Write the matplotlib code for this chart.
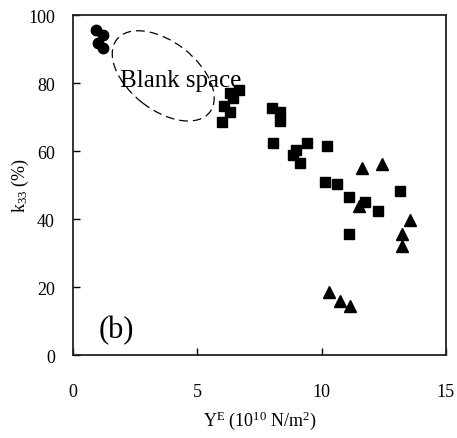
import matplotlib
matplotlib.use("Agg")
import matplotlib.pyplot as plt
from matplotlib.patches import Ellipse
from matplotlib.transforms import ScaledTranslation

plt.rcParams['font.family'] = ['Liberation Serif', 'DejaVu Serif']
plt.rcParams['mathtext.fontset'] = 'custom'
plt.rcParams['mathtext.rm'] = 'Liberation Serif'
plt.rcParams['mathtext.it'] = 'Liberation Serif:italic'

# Data
circ_x = [0.93, 1.21, 1.01, 1.21]
circ_y = [95.6, 94.1, 91.8, 90.3]

sq_x = [6.67, 6.30, 6.45, 6.06, 6.30, 6.00,
        8.01, 8.31, 8.31, 8.05, 9.40, 8.99, 8.86, 9.15, 10.20,
        10.12, 10.63, 11.12, 11.73, 12.27, 11.12, 13.15]
sq_y = [77.9, 77.1, 75.6, 73.3, 71.4, 68.4,
        72.8, 71.6, 68.9, 62.3, 62.3, 60.3, 58.8, 56.4, 61.4,
        51.0, 50.3, 46.4, 45.1, 42.3, 35.6, 48.3]

tri_x = [11.64, 12.45, 11.50, 13.56, 13.23, 13.23, 10.30, 10.74, 11.13]
tri_y = [54.9, 56.2, 43.7, 39.8, 35.6, 32.2, 18.6, 16.0, 14.5]

x_ticks = [0, 5, 10, 15]
y_ticks = [0, 20, 40, 60, 80, 100]

fig = plt.figure(figsize=(4.57, 4.39), dpi=100)
ax = fig.add_axes([0.1597, 0.189, 0.816, 0.7745])

ax.plot(circ_x, circ_y, 'o', color='black', ms=7.5, mec='black')
ax.plot(sq_x, sq_y, 's', color='black', ms=7.7, mec='black')
ax.plot(tri_x, tri_y, '^', color='black', ms=9, mec='black')

ax.set_xlim(0, 15)
ax.set_ylim(0, 100)
ax.set_xticks(x_ticks)
ax.set_yticks(y_ticks)
ax.tick_params(axis='x', direction='in', length=5, width=1, pad=20, labelsize=13)
ax.tick_params(axis='y', direction='in', length=5, width=1, pad=13, labelsize=13)
for s in ax.spines.values():
    s.set_linewidth(1.3)
    s.set_color('#222222')

ax.set_xlabel(r'Y$^{\mathrm{E}}$ (10$^{\mathrm{10}}$ N/m$^{\mathrm{2}}$)', fontsize=13, labelpad=6)
ax.set_ylabel(r'k$_{\mathrm{33}}$ (%)', fontsize=13, labelpad=-2)

# dashed "blank space" outline
ell = Ellipse((0, 0), 1.18, 0.68, angle=-38, fill=False, ls=(0, (7, 4)),
              lw=0.9, color='black',
              transform=fig.dpi_scale_trans + ScaledTranslation(3.63, 82.1, ax.transData))
ax.add_patch(ell)
ax.text(1.9, 81, 'Blank space', fontsize=18, ha='left', va='center')
ax.text(1.73, 7.6, '(b)', fontsize=22, ha='center', va='center')

fig.savefig('out.png', dpi=100)
